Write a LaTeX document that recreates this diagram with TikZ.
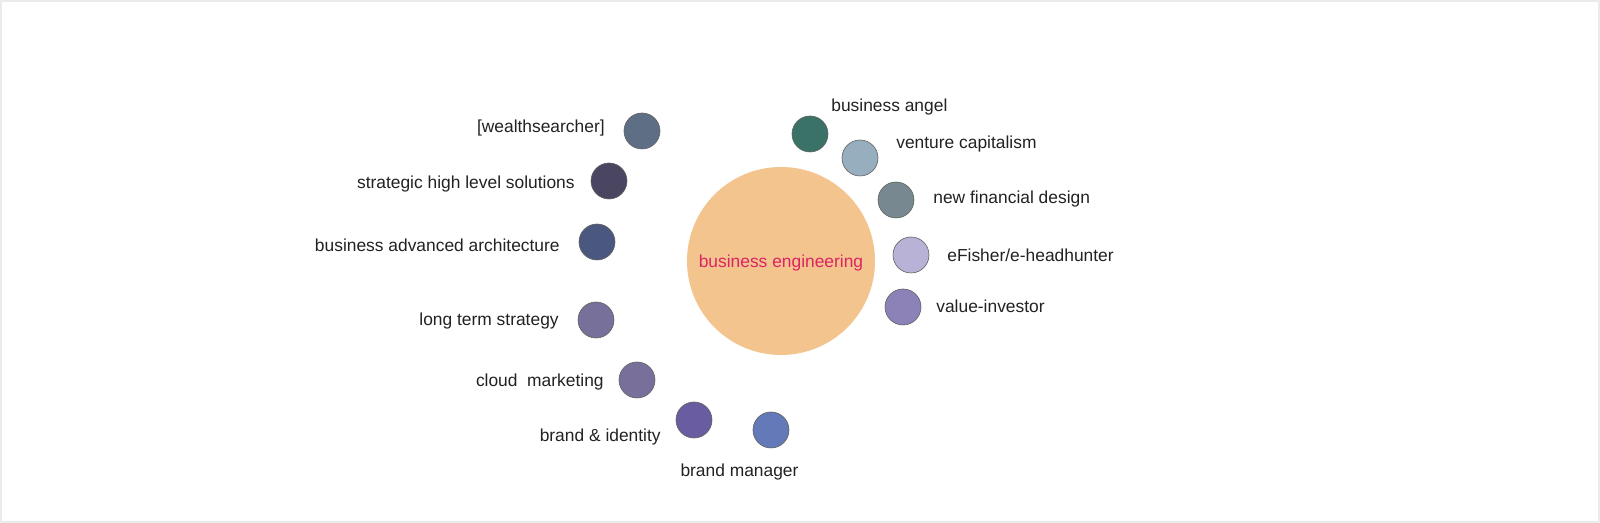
\documentclass[tikz,border=0pt]{standalone}
\usepackage{fontspec}
\setmainfont{Liberation Sans}
\usepackage{xcolor}
\usepackage{tikz}
\usetikzlibrary{
  positioning
}
\definecolor{BeCore}{HTML}{F4C48F}
\definecolor{BeRose}{HTML}{DC2462}
\definecolor{BeInk}{HTML}{222222}
\definecolor{BeFrame}{HTML}{EBEBEB}
\definecolor{BeSlate}{HTML}{5E6E85}
\definecolor{BeNight}{HTML}{4A4560}
\definecolor{BeNavy}{HTML}{4A5880}
\definecolor{BeMauve}{HTML}{77709A}
\definecolor{BeMauveB}{HTML}{78709A}
\definecolor{BeViolet}{HTML}{6A5CA0}
\definecolor{BeCornflower}{HTML}{6479B8}
\definecolor{BeTeal}{HTML}{3A7268}
\definecolor{BeSky}{HTML}{97AEBE}
\definecolor{BeSteel}{HTML}{778890}
\definecolor{BeLavender}{HTML}{B8B3D6}
\definecolor{BeLilac}{HTML}{8C82B8}
\tikzset{
  every node/.style = {font=\fontsize{9.9}{12}\selectfont, text=BeInk},
  core/.style = {
    circle,
    fill=BeCore,
    minimum size=3.76cm,
    inner sep=0pt
  },
  satellite/.style = {
    circle,
    draw=black!62,
    line width=0.35pt,
    minimum size=0.72cm,
    inner sep=0pt
  },
  tag/.style = {
    inner sep=0pt,
    text height=0.72em,
    text depth=0pt
  },
  tag left/.style = {tag, anchor=east},
  tag right/.style = {tag, anchor=west},
}

\begin{document}
\begin{tikzpicture}[x=1cm,y=1cm]
  \draw[BeFrame, line width=0.6pt, fill=white] (0.02,0.02) rectangle (31.98,10.44);

  \node[core] (core) at (15.62,5.24) {};
  \node[tag, text=BeRose] (corelabel) at (core.center) {business engineering};

  % left side
  \node[satellite, fill=BeSlate] (wealth) at (12.84,7.84) {};
  \node[satellite, fill=BeNight] (strategic) at (12.18,6.84) {};
  \node[satellite, fill=BeNavy] (architecture) at (11.94,5.62) {};
  \node[satellite, fill=BeMauve] (longterm) at (11.92,4.06) {};
  \node[satellite, fill=BeMauveB] (cloud) at (12.74,2.86) {};
  \node[satellite, fill=BeViolet] (brandid) at (13.88,2.06) {};
  \node[satellite, fill=BeCornflower] (brandmgr) at (15.42,1.86) {};

  \node[tag left] (wealthlabel) at (12.10,7.94) {[wealthsearcher]};
  \node[tag left] (strategiclabel) at (11.50,6.82) {strategic high level solutions};
  \node[tag left] (architecturelabel) at (11.20,5.56) {business advanced architecture};
  \node[tag left] (longtermlabel) at (11.18,4.08) {long term strategy};
  \node[tag left] (cloudlabel) at (12.08,2.86) {cloud~~marketing};
  \node[tag left] (brandidlabel) at (13.22,1.76) {brand \& identity};
  \node[tag] (brandmgrlabel) at (14.79,1.06) {brand manager};

  % right side
  \node[satellite, fill=BeTeal] (angel) at (16.20,7.78) {};
  \node[satellite, fill=BeSky] (venture) at (17.20,7.30) {};
  \node[satellite, fill=BeSteel] (findesign) at (17.92,6.46) {};
  \node[satellite, fill=BeLavender] (efisher) at (18.22,5.36) {};
  \node[satellite, fill=BeLilac] (investor) at (18.06,4.32) {};

  \node[tag right] (angellabel) at (16.62,8.36) {business angel};
  \node[tag right] (venturelabel) at (17.92,7.62) {venture capitalism};
  \node[tag right] (findesignlabel) at (18.66,6.52) {new financial design};
  \node[tag right] (efisherlabel) at (18.94,5.36) {eFisher/e-headhunter};
  \node[tag right] (investorlabel) at (18.72,4.34) {value-investor};

  \useasboundingbox (0,0) rectangle (32,10.46);
\end{tikzpicture}
\end{document}
